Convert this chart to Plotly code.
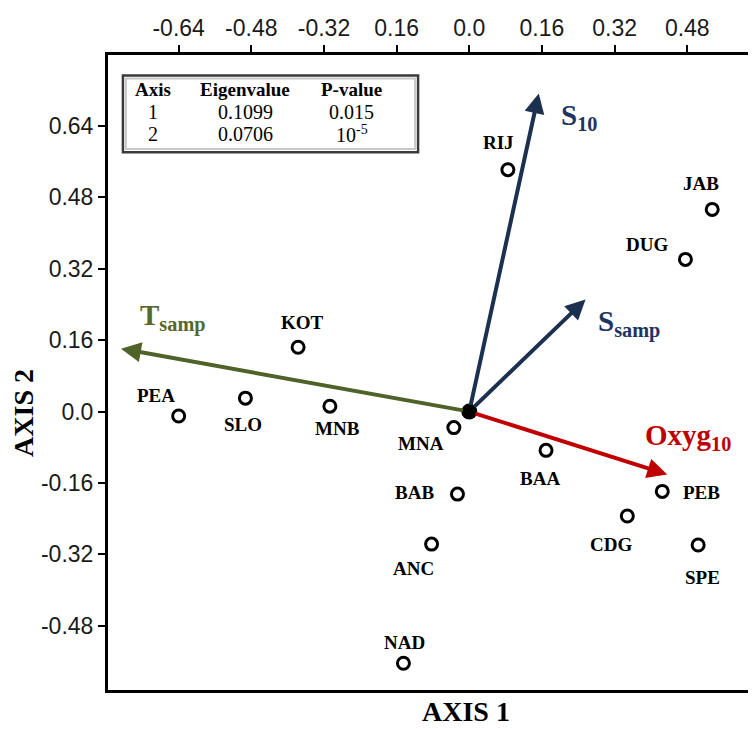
import plotly.graph_objects as go

# ---------------- data ----------------
sites = ["RIJ", "JAB", "DUG", "KOT", "PEA", "SLO", "MNB", "MNA",
         "BAA", "BAB", "PEB", "CDG", "ANC", "SPE", "NAD"]
axis1 = [0.085, 0.535, 0.476, -0.377, -0.640, -0.493, -0.307, -0.034,
         0.169, -0.026, 0.425, 0.348, -0.083, 0.504, -0.145]
axis2 = [0.542, 0.453, 0.341, 0.144, -0.010, 0.030, 0.012, -0.036,
         -0.087, -0.185, -0.179, -0.234, -0.297, -0.299, -0.564]

vec_names = ["S<sub>10</sub>", "S<sub>samp</sub>", "T<sub>samp</sub>", "Oxyg<sub>10</sub>"]
vec_axis1 = [0.153, 0.256, -0.767, 0.436]
vec_axis2 = [0.713, 0.251, 0.141, -0.141]

x_tickvals = [-0.64, -0.48, -0.32, -0.16, 0.0, 0.16, 0.32, 0.48]
x_ticktext = ["-0.64", "-0.48", "-0.32", "0.16", "0.0", "0.16", "0.32", "0.48"]
y_tickvals = [0.64, 0.48, 0.32, 0.16, 0.0, -0.16, -0.32, -0.48]
y_ticktext = ["0.64", "0.48", "0.32", "0.16", "0.0", "-0.16", "-0.32", "-0.48"]

table_header = ["Axis", "Eigenvalue", "P-value"]
table_rows = [["1", "0.1099", "0.015"],
              ["2", "0.0706", "10<sup>-5</sup>"]]

# ---------------- styles ----------------
serif = "Liberation Serif, Times New Roman, serif"
sans = "Liberation Sans, Arial, sans-serif"
vec_colors = ["#1c3150", "#1c3150", "#4f6228", "#c00000"]
vec_label_colors = ["#1f3560", "#1f3560", "#56692c", "#c00000"]
# label offsets in pixels (dx right, dy down)
site_offsets = {
    "RIJ": (-9, -27), "JAB": (-11, -26), "DUG": (-38, -15), "KOT": (4, -25),
    "PEA": (-23, -21), "SLO": (-2, 26), "MNB": (8, 22), "MNA": (-33, 16),
    "BAA": (-6, 28), "BAB": (-43, -2), "PEB": (39, 1), "CDG": (-16, 29),
    "ANC": (-18, 24), "SPE": (4, 33), "NAD": (1, -21),
}
vec_label_offsets = [(20, 24), (10, 24), (17, -31), (-24, -37)]

fig = go.Figure()

# zero lines
fig.add_hline(y=0, line=dict(color="#707070", width=1.2), layer="below")
fig.add_vline(x=0, line=dict(color="#707070", width=1.2), layer="below")

# site points
fig.add_trace(go.Scatter(
    x=axis1, y=axis2, mode="markers",
    marker=dict(symbol="circle", size=12, color="white",
                line=dict(color="black", width=3)),
    hoverinfo="text", text=sites, showlegend=False))

# origin
fig.add_trace(go.Scatter(
    x=[0], y=[0], mode="markers",
    marker=dict(size=16, color="black"), showlegend=False))

annotations = []
for s, xv, yv in zip(sites, axis1, axis2):
    dx, dy = site_offsets[s]
    annotations.append(dict(
        x=xv, y=yv, xref="x", yref="y", text="<b>" + s + "</b>", showarrow=False,
        xshift=dx, yshift=-dy, xanchor="center", yanchor="middle",
        font=dict(family=serif, size=19, color="black")))

for name, vx, vy, col, lcol, (dx, dy) in zip(vec_names, vec_axis1, vec_axis2,
                                            vec_colors, vec_label_colors,
                                            vec_label_offsets):
    annotations.append(dict(
        x=vx, y=vy, ax=0, ay=0, xref="x", yref="y", axref="x", ayref="y",
        showarrow=True, arrowhead=2, arrowsize=1, arrowwidth=4,
        arrowcolor=col, startstandoff=5, text=""))
    annotations.append(dict(
        x=vx, y=vy, xref="x", yref="y", text="<b>" + name + "</b>",
        showarrow=False, xanchor="left", yanchor="middle",
        xshift=dx, yshift=-dy,
        font=dict(family=serif, size=29, color=lcol)))

# table (paper coords)
col_x = [0.0693, 0.2126, 0.3775]
row_y = [0.945, 0.910, 0.876]
for cx, h in zip(col_x, table_header):
    annotations.append(dict(x=cx, y=row_y[0], xref="paper", yref="paper",
                            text="<b>" + h + "</b>", showarrow=False,
                            xanchor="center", yanchor="middle",
                            font=dict(family=serif, size=19, color="black")))
for r, ry in zip(table_rows, row_y[1:]):
    for cx, t in zip(col_x, r):
        annotations.append(dict(x=cx, y=ry, xref="paper", yref="paper",
                                text=t, showarrow=False,
                                xanchor="center", yanchor="middle",
                                font=dict(family=serif, size=20, color="black")))

# axis titles
annotations.append(dict(x=0.554, y=-0.034, xref="paper", yref="paper",
                        text="<b>AXIS 1</b>", showarrow=False,
                        xanchor="center", yanchor="middle",
                        font=dict(family=serif, size=28, color="black")))
annotations.append(dict(x=-0.131, y=0.437, xref="paper", yref="paper",
                        text="<b>AXIS 2</b>", showarrow=False, textangle=-90,
                        xanchor="center", yanchor="middle",
                        font=dict(family=serif, size=28, color="black")))

shapes = [
    dict(type="rect", xref="paper", yref="paper", x0=0.0231, x1=0.4800,
         y0=0.847, y1=0.9676, line=dict(color="#3a3a3a", width=2.5),
         fillcolor="white", layer="below"),
    dict(type="rect", xref="paper", yref="paper", x0=0.0277, x1=0.4754,
         y0=0.852, y1=0.9630, line=dict(color="#c8c8c8", width=2),
         layer="below"),
]

fig.update_layout(
    width=756, height=729,
    margin=dict(l=100, r=7, t=33, b=47),
    paper_bgcolor="white", plot_bgcolor="white",
    showlegend=False,
    annotations=annotations, shapes=shapes,
    xaxis=dict(range=[-0.7956, 0.627], side="top", tickvals=x_tickvals,
               ticktext=x_ticktext, showgrid=False, zeroline=False,
               showline=True, linecolor="black", linewidth=3, mirror=True,
               ticks="outside", ticklen=7, tickwidth=2, tickcolor="black",
               tickfont=dict(family=sans, size=23, color="#1a1a1a")),
    yaxis=dict(range=[-0.624, 0.799], tickvals=y_tickvals,
               ticktext=y_ticktext, showgrid=False, zeroline=False,
               showline=True, linecolor="black", linewidth=3, mirror=True,
               ticks="outside", ticklen=7, tickwidth=2, tickcolor="black",
               tickfont=dict(family=sans, size=23, color="#1a1a1a")),
)

fig.write_html("out.html")
